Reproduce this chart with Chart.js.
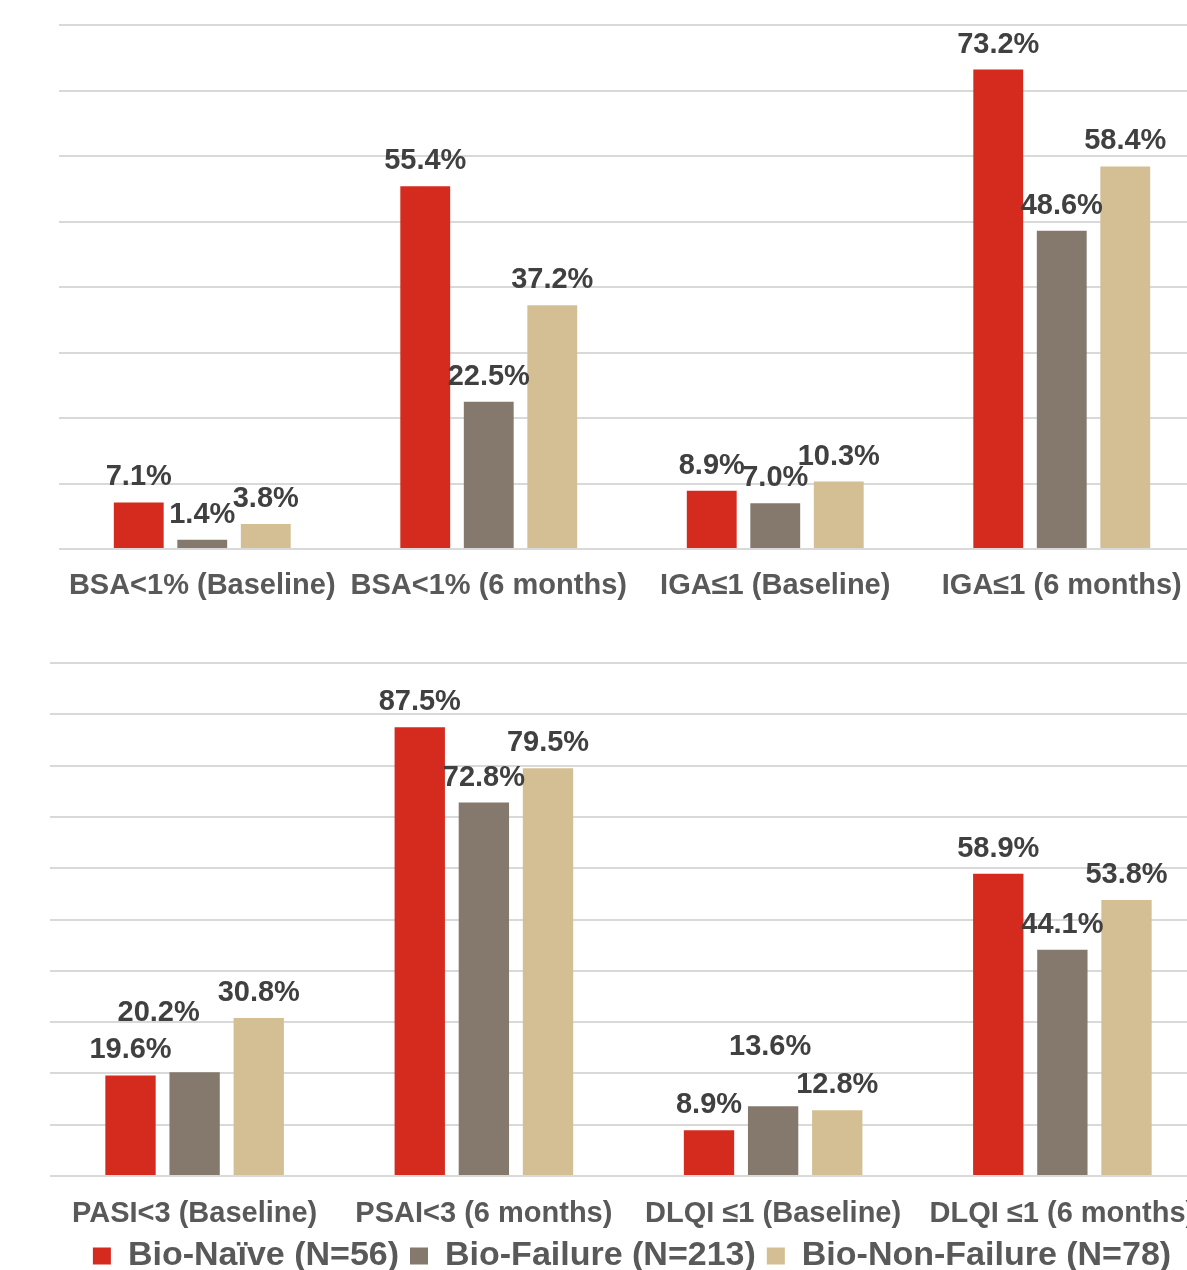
<!DOCTYPE html>
<html><head><meta charset="utf-8">
<script src="https://cdn.jsdelivr.net/npm/chart.js@4.4.0/dist/chart.umd.min.js"></script>
<style>
html,body{margin:0;padding:0;background:#fff;overflow:hidden;width:1187px;height:1270px;}
#wrap{position:relative;width:1187px;height:1270px;overflow:hidden;background:#fff;}
canvas{position:absolute;left:0;}
#c1{top:0}
#c2{top:620px}
</style></head><body>
<div id="wrap">
<canvas id="c1" width="1230" height="620" style="width:1230px;height:620px"></canvas>
<canvas id="c2" width="1264" height="663" style="width:1264px;height:663px"></canvas>
</div>
<script>
// ---- data ----
const seriesNames = ['Bio-Naïve (N=56)', 'Bio-Failure (N=213)', 'Bio-Non-Failure (N=78)'];
const topCategories = ['BSA<1% (Baseline)', 'BSA<1% (6 months)', 'IGA≤1 (Baseline)', 'IGA≤1 (6 months)'];
const topNaive = [7.1, 55.4, 8.9, 73.2];
const topFailure = [1.4, 22.5, 7.0, 48.6];
const topNonFailure = [3.8, 37.2, 10.3, 58.4];
const bottomCategories = ['PASI<3 (Baseline)', 'PSAI<3 (6 months)', 'DLQI ≤1 (Baseline)', 'DLQI ≤1 (6 months)'];
const bottomNaive = [19.6, 87.5, 8.9, 58.9];
const bottomFailure = [20.2, 72.8, 13.6, 44.1];
const bottomNonFailure = [30.8, 79.5, 12.8, 53.8];
const topAxisMax = 80;
const bottomAxisMax = 100;
const axisStep = 10;

// ---- style ----
const COLORS = ['#D52B1E', '#85796E', '#D4BF94'];
const FONT = '"Liberation Sans", Arial, Helvetica, sans-serif';
const GRID = '#d9d9d9';
// manual label nudges (dataset, index, dx, dy) for the lower chart
const bottomNudges = [[1, 0, -36, -34], [1, 2, -3, -34]];

const valueLabels = {
  id: 'valueLabels',
  afterDatasetsDraw(chart, args, opts) {
    const ctx = chart.ctx;
    ctx.save();
    ctx.font = 'bold 29px ' + FONT;
    ctx.fillStyle = '#404040';
    ctx.textAlign = 'center';
    ctx.textBaseline = 'middle';
    const nudges = opts.nudges || [];
    chart.data.datasets.forEach((ds, di) => {
      const meta = chart.getDatasetMeta(di);
      meta.data.forEach((bar, i) => {
        let dx = 0, dy = 0;
        nudges.forEach(n => { if (n[0] === di && n[1] === i) { dx = n[2]; dy = n[3]; } });
        ctx.fillText(ds.data[i].toFixed(1) + '%', bar.x + dx, bar.y - 25 + dy);
      });
    });
    ctx.restore();
  }
};

function makeDatasets(a, b, c) {
  return [a, b, c].map((d, k) => ({
    label: seriesNames[k],
    data: d,
    backgroundColor: COLORS[k],
    borderWidth: 0,
    yAxisID: 'y',
    categoryPercentage: 0.665,
    barPercentage: 0.785
  }));
}

function makeOptions(cfg) {
  const scales = {
    x: {
      grid: { display: true, drawOnChartArea: false, drawTicks: true, tickLength: cfg.tickLen, color: 'rgba(0,0,0,0)' },
      border: { display: false },
      ticks: { padding: 0, autoSkip: false, maxRotation: 0, minRotation: 0,
               color: '#595959', font: { family: FONT, size: 29, weight: 'bold' } },
      afterFit: s => { s.height = cfg.xHeight; }
    },
    y: {
      min: 0, max: cfg.max,
      ticks: { display: false, stepSize: axisStep },
      grid: { color: GRID, lineWidth: 2, drawTicks: false },
      border: { display: false },
      afterFit: s => { s.width = cfg.yWidth; }
    }
  };
  if (cfg.rightWidth) {
    scales.yR = {
      type: 'linear', position: 'right', display: true,
      grid: { display: false, drawTicks: false }, ticks: { display: false }, border: { display: false },
      afterFit: s => { s.width = cfg.rightWidth; }
    };
  }
  return {
    responsive: false,
    animation: false,
    devicePixelRatio: 1,
    layout: { padding: cfg.padding },
    plugins: {
      tooltip: { enabled: false },
      valueLabels: { nudges: cfg.nudges || [] },
      legend: cfg.legend ? {
        display: true, position: 'bottom',
        labels: { boxWidth: 18, boxHeight: 17, padding: 11, color: '#595959',
                  font: { family: FONT, size: 34, weight: 'bold' } }
      } : { display: false }
    },
    scales
  };
}

new Chart(document.getElementById('c1'), {
  type: 'bar',
  data: { labels: topCategories, datasets: makeDatasets(topNaive, topFailure, topNonFailure) },
  options: makeOptions({ max: topAxisMax, tickLen: 20, xHeight: 60, yWidth: 59,
                         padding: { top: 25, left: 0, right: 25, bottom: 11 }, legend: false }),
  plugins: [valueLabels]
});

new Chart(document.getElementById('c2'), {
  type: 'bar',
  data: { labels: bottomCategories, datasets: makeDatasets(bottomNaive, bottomFailure, bottomNonFailure) },
  options: makeOptions({ max: bottomAxisMax, tickLen: 21, xHeight: 52, yWidth: 50, rightWidth: 57,
                         padding: { top: 43, left: 0, right: 0, bottom: 0 }, legend: true, nudges: bottomNudges }),
  plugins: [valueLabels]
});
</script>
</body></html>
